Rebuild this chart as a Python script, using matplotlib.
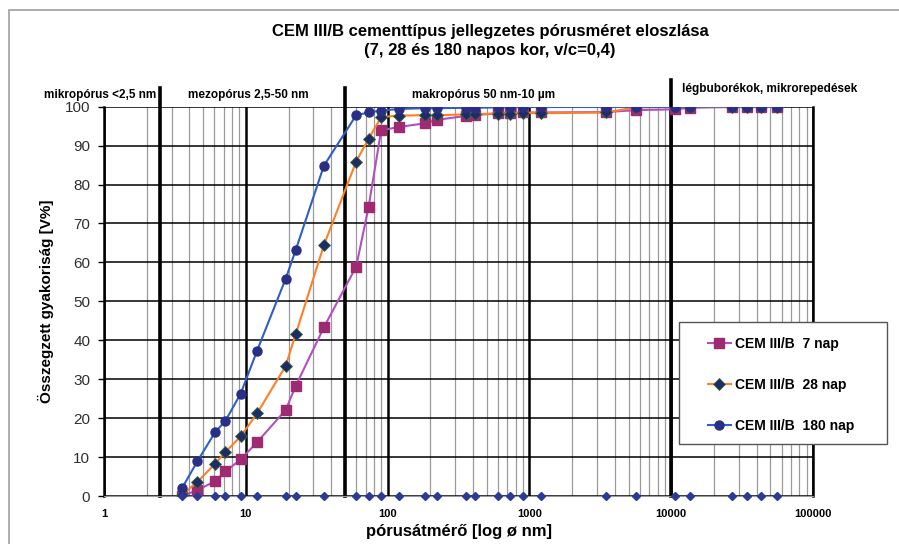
import matplotlib.pyplot as plt
import matplotlib.patches as mpatches
import numpy as np

# pore diameters [nm], shared by all three samples
diam = [3.55, 4.55, 6.08, 7.18, 9.2, 12.0, 19.1, 22.5, 35.5, 60, 73.3, 90, 121, 183, 222,
        355, 410, 600, 735, 900, 1210, 3450, 5650, 10600, 13650, 26800, 34000, 43000, 55600]

nap7 = [0, 1.5, 3.8, 6.3, 9.4, 13.8, 22.1, 28.3, 43.3, 58.9, 74.1, 93.9, 94.8, 95.7, 96.6,
        97.6, 97.8, 98.3, 98.4, 98.5, 98.5, 98.6, 99.1, 99.3, 99.7, 99.9, 99.9, 100, 100]
nap28 = [0.3, 3.6, 8.3, 11.3, 15.3, 21.2, 33.4, 41.6, 64.4, 85.9, 91.7, 97.3, 97.7, 97.8, 97.8,
         98.0, 98.1, 98.2, 98.2, 98.4, 98.3, 98.5, 99.8, 99.9, 99.9, 100, 100, 100, 100]
nap180 = [2.0, 8.9, 16.4, 19.3, 26.3, 37.3, 55.8, 63.2, 84.8, 97.8, 98.5, 99.0, 99.4, 99.6, 99.6,
          99.7, 99.7, 99.8, 99.8, 99.9, 99.9, 99.9, 99.9, 99.9, 100, 100, 100, 100, 100]

# pore class boundaries [nm] and labels
bounds = [2.5, 50, 10000]
class_labels = ["mikropórus <2,5 nm", "mezopórus 2,5-50 nm",
                "makropórus 50 nm-10 µm", "légbuborékok, mikrorepedések"]

plt.rcParams['font.family'] = ['Liberation Sans', 'DejaVu Sans']

fig = plt.figure(figsize=(8.99, 5.44), dpi=100)
ax = fig.add_axes([0.1157, 0.0882, 0.7887, 0.7158])

# frame around the chart area
fig.patches.append(mpatches.Rectangle((0.010, -0.05), 1.05, 1.032, transform=fig.transFigure,
                                      fill=False, edgecolor="#a0a0a0", linewidth=1.2))

ax.set_xscale("log")
ax.set_xlim(1, 100000)
ax.set_ylim(0, 100)

# grid
ax.set_yticks(np.arange(0, 101, 10))
ax.grid(True, which="minor", axis="x", color="#9a9a9a", linewidth=0.9)
ax.grid(True, which="major", axis="x", color="black", linewidth=1.8)
ax.grid(True, which="major", axis="y", color="black", linewidth=1.1)
ax.set_axisbelow(True)

for b in bounds:
    top = 1.068 if b == 10000 else 1.047
    ax.axvline(b, ymin=0, ymax=top, color="black", linewidth=2.6, clip_on=False, zorder=1)

ax.plot(diam, nap7, color="#b34fc2", linewidth=1.5, marker="s", markersize=6.5,
        markerfacecolor="#9e2a72", markeredgecolor="#9e2a72", label="CEM III/B  7 nap", zorder=3)
ax.plot(diam, nap28, color="#ff7f27", linewidth=1.5, marker="D", markersize=6,
        markerfacecolor="#1f2b66", markeredgecolor="#3a6a3a", markeredgewidth=0.6,
        label="CEM III/B  28 nap", zorder=4)
ax.plot(diam, nap180, color="#2f5fc4", linewidth=1.5, marker="o", markersize=6.5,
        markerfacecolor="#2a2f86", markeredgecolor="#2a2f86", label="CEM III/B  180 nap", zorder=5)
ax.plot(diam, np.zeros(len(diam)), linestyle="none", marker="D", markersize=4.5,
        color="#2b3a96", clip_on=False, zorder=6)

ax.spines["top"].set_visible(False)
ax.spines["bottom"].set_color("#9a9a9a")
ax.spines["left"].set_color("black")
ax.spines["left"].set_linewidth(1.8)
ax.spines["right"].set_linewidth(1.8)

ax.tick_params(axis="x", which="both", length=0, pad=9)
ax.tick_params(axis="y", length=4, width=1, pad=6, labelsize=11, labelcolor="#303030")
ax.set_xticks([1, 10, 100, 1000, 10000, 100000])
ax.set_xticklabels(["1", "10", "100", "1000", "10000", "100000"], fontsize=8, fontweight="bold")

ax.set_xlabel("pórusátmérő [log ø nm]", fontsize=12, fontweight="bold", labelpad=4)
ax.set_ylabel("Összegzett gyakoriság [V%]", fontsize=11, fontweight="bold", labelpad=8)

fig.text(0.545, 0.925, "CEM III/B cementtípus jellegzetes pórusméret eloszlása\n(7, 28 és 180 napos kor, v/c=0,4)",
         ha="center", va="center", fontsize=12, fontweight="bold", linespacing=1.3)

# pore class labels above the plot
lab_y = 1.03
ax.text(0.073, lab_y, class_labels[0], transform=ax.transAxes, ha="right", va="center",
        fontsize=8.5, fontweight="bold")
ax.text(0.119, lab_y, class_labels[1], transform=ax.transAxes, ha="left", va="center",
        fontsize=8.5, fontweight="bold")
ax.text(0.535, lab_y, class_labels[2], transform=ax.transAxes, ha="center", va="center",
        fontsize=8.5, fontweight="bold")
ax.text(0.815, lab_y + 0.015, class_labels[3], transform=ax.transAxes, ha="left", va="center",
        fontsize=8.5, fontweight="bold")

# legend box drawn separately (wider side padding than matplotlib's borderpad allows)
fig.patches.append(mpatches.Rectangle((0.7553, 0.1838), 0.2314, 0.2243, transform=fig.transFigure,
                                      facecolor="white", edgecolor="#555555", linewidth=1.0,
                                      zorder=9))
leg = fig.legend(loc="upper left", bbox_to_anchor=(0.787, 0.381), frameon=False,
                 prop={"weight": "bold", "size": 10}, labelspacing=1.95, handlelength=1.7,
                 borderpad=0, handletextpad=0.3, borderaxespad=0)
leg.set_zorder(10)

fig.savefig("out.png", dpi=100)
